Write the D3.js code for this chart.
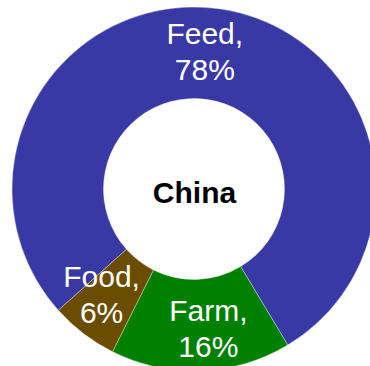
<!DOCTYPE html>
<html>
<head>
<meta charset="utf-8">
<script src="https://cdn.jsdelivr.net/npm/d3@7"></script>
<style>
  html, body { margin: 0; padding: 0; background: #fff; }
  svg { display: block; }
</style>
</head>
<body>
<svg id="chart" width="370" height="366"></svg>
<script>
// Shares of use, listed clockwise from the start angle
const categories = ["Feed", "Farm", "Food"];
const shares = [78, 16, 6];
const colors = ["#3939A5", "#008000", "#6A4D00"];
const centerTitle = "China";

const width = 370, height = 366;
const cx = 194, cy = 189;
const outerR = 182, innerR = 90.5;

// small nudges for the two-line slice labels
const labelShift = { Feed: [-10, -1], Farm: [9, 0], Food: [-8, -5] };

const svg = d3.select("#chart");
const g = svg.append("g").attr("transform", `translate(${cx},${cy})`);

const rows = categories.map((c, i) => ({ name: c, value: shares[i], color: colors[i] }));

const pie = d3.pie()
  .value(d => d.value)
  .sort(null)
  .startAngle(-131.8 * Math.PI / 180)
  .endAngle((360 - 131.8) * Math.PI / 180);

const arc = d3.arc().innerRadius(innerR).outerRadius(outerR);
const labelArc = d3.arc().innerRadius(139).outerRadius(139);

const arcs = pie(rows);

g.selectAll("path.slice")
  .data(arcs)
  .join("path")
  .attr("class", "slice")
  .attr("d", arc)
  .attr("fill", d => d.data.color)
  .attr("stroke", "#ffffff")
  .attr("stroke-opacity", 0.6)
  .attr("stroke-width", 0.6);

const fontSize = 30;
const labels = g.selectAll("text.lbl")
  .data(arcs)
  .join("text")
  .attr("class", "lbl")
  .attr("transform", d => {
    const [x, y] = labelArc.centroid(d);
    const [sx, sy] = labelShift[d.data.name] || [0, 0];
    return `translate(${x + sx},${y + sy})`;
  })
  .attr("text-anchor", "middle")
  .attr("fill", "#ffffff")
  .style("font-family", "Arial, 'Liberation Sans', sans-serif")
  .style("font-size", fontSize + "px");

labels.append("tspan")
  .attr("x", 0)
  .attr("y", -7)
  .text(d => d.data.name + ",");
labels.append("tspan")
  .attr("x", 0)
  .attr("y", 29)
  .text(d => d3.format(".0f")(d.data.value) + "%");

g.append("text")
  .attr("x", 0.5)
  .attr("y", 14)
  .attr("text-anchor", "middle")
  .attr("fill", "#000000")
  .style("font-family", "Arial, 'Liberation Sans', sans-serif")
  .style("font-weight", "bold")
  .style("font-size", "30px")
  .text(centerTitle);
</script>
</body>
</html>
